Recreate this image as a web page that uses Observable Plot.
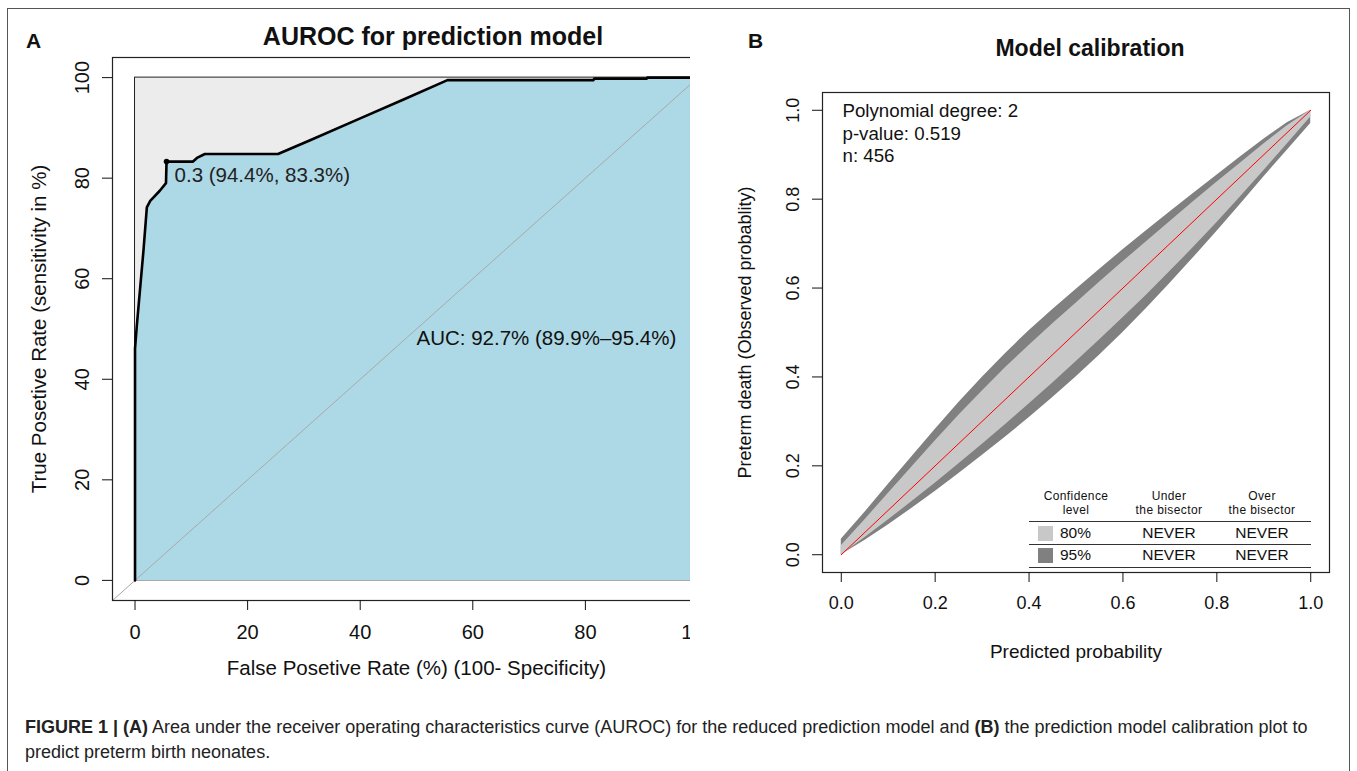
<!DOCTYPE html>
<html><head><meta charset="utf-8">
<script src="https://cdn.jsdelivr.net/npm/d3@7"></script>
<script src="https://cdn.jsdelivr.net/npm/@observablehq/plot@0.6"></script>
<style>
body{margin:0;background:#fff;font-family:"Liberation Sans",Arial,sans-serif;color:#111;}
#fig{position:relative;width:1357px;height:771px;overflow:hidden;}
#frame{position:absolute;left:7px;top:8px;width:1341px;height:820px;border:1px solid #555;}
.letter{position:absolute;font-weight:bold;font-size:21px;line-height:1;}
.ptitle{position:absolute;font-weight:bold;transform:translate(-50%,-50%);white-space:nowrap;line-height:1;}
#plotA{position:absolute;left:0;top:0;width:730px;height:700px;clip-path:inset(0 40px 0 0);}
#plotB{position:absolute;left:700px;top:0;}
#plotA svg,#plotB svg{max-width:none !important;}
#legendB{position:absolute;left:0;top:0;}
.lg{position:absolute;white-space:nowrap;line-height:1;transform:translate(-50%,-50%);}
.lgline{position:absolute;height:0;border-top:1.5px solid #333;}
.lgsq{position:absolute;width:15px;height:15px;}
#caption{position:absolute;left:25px;top:715px;width:1320px;font-size:18px;line-height:25px;color:#222;white-space:nowrap;}
</style></head>
<body>
<div id="fig">
  <div id="frame"></div>
  <div id="plotA"></div>
  <div id="plotB"></div>
  <div class="letter" style="left:26px;top:30px">A</div>
  <div class="letter" style="left:748px;top:30px">B</div>
  <div class="ptitle" id="titleA" style="left:433px;top:36px;font-size:25px"></div>
  <div class="ptitle" id="titleB" style="left:1090px;top:48px;font-size:23px"></div>
  <div id="legendB"></div>
  <div id="caption"></div>
</div>
<script>
// ---------- Panel A data (ROC curve) ----------
const titleA = "AUROC for prediction model";
const rocFpr = [0, 0, 0.3, 1.5, 2.1, 2.7, 4.4, 5.5, 5.6, 10.3, 11.1, 12.4, 25.4, 31, 40, 47.6, 55.5, 81.4, 81.6, 90.9, 91, 100];
const rocTpr = [0, 46.1, 50.4, 65.6, 74.2, 75.5, 77.5, 79, 83.3, 83.3, 84.1, 84.8, 84.8, 87.5, 91.9, 95.6, 99.5, 99.5, 99.8, 99.8, 100, 100];
const thrFpr = [5.6];
const thrTpr = [83.3];
const thrLabel = ["0.3 (94.4%, 83.3%)"];
const aucX = [50];
const aucY = [50];
const aucLabel = ["AUC: 92.7% (89.9%\u201395.4%)"];
const ticksA = [0, 20, 40, 60, 80, 100];
const domainA = [-4, 104];
const xLabelA = "False Posetive Rate (%) (100- Specificity)";
const yLabelA = "True Posetive Rate (sensitivity in %)";

// ---------- Panel B data (calibration belt) ----------
const titleB = "Model calibration";
const beltP   = [0.00,0.05,0.10,0.15,0.20,0.25,0.30,0.35,0.40,0.45,0.50,0.55,0.60,0.65,0.70,0.75,0.80,0.85,0.90,0.95,1.00];
const beltU95 = [0.035,0.095,0.158,0.220,0.282,0.342,0.399,0.453,0.504,0.551,0.597,0.642,0.686,0.729,0.771,0.813,0.854,0.895,0.935,0.972,1.000];
const beltU80 = [0.020,0.078,0.138,0.197,0.256,0.313,0.368,0.421,0.471,0.519,0.566,0.613,0.659,0.704,0.749,0.794,0.838,0.881,0.924,0.965,1.000];
const beltL80 = [0.000,0.038,0.078,0.119,0.161,0.204,0.248,0.293,0.339,0.386,0.434,0.483,0.533,0.584,0.637,0.691,0.747,0.805,0.864,0.924,0.985];
const beltL95 = [0.000,0.032,0.067,0.104,0.142,0.182,0.223,0.265,0.308,0.353,0.400,0.449,0.500,0.554,0.610,0.668,0.727,0.788,0.850,0.910,0.970];
const bisector = [0, 1];
const ticksB = [0, 0.2, 0.4, 0.6, 0.8, 1.0];
const domainB = [-0.04, 1.04];
const infoLines = ["Polynomial degree: 2", "p-value: 0.519", "n: 456"];
const xLabelB = "Predicted probability";
const yLabelB = "Preterm death (Observed probablity)";
const legendHeaders = ["Confidence\nlevel", "Under\nthe bisector", "Over\nthe bisector"];
const legendLevels = ["80%", "95%"];
const legendUnder = ["NEVER", "NEVER"];
const legendOver = ["NEVER", "NEVER"];
const legendColors = ["#c8c8c8", "#808080"];

const captionLines = [
  "<b>FIGURE 1 | (A)</b> Area under the receiver operating characteristics curve (AUROC) for the reduced prediction model and <b>(B)</b> the prediction model calibration plot to",
  "predict preterm birth neonates."
];

// ---------- build ----------
document.getElementById("titleA").textContent = titleA;
document.getElementById("titleB").textContent = titleB;
document.getElementById("caption").innerHTML = captionLines.join("<br>");

const roc = rocFpr.map((f, i) => ({fpr: f, tpr: rocTpr[i]}));
const thr = thrFpr.map((f, i) => ({x: f, y: thrTpr[i], t: thrLabel[i]}));
const auc = aucX.map((x, i) => ({x, y: aucY[i], t: aucLabel[i]}));
const diagA = domainA.map(v => ({v}));
const sq = [{x1: ticksA[0], x2: ticksA[ticksA.length-1], y1: ticksA[0], y2: ticksA[ticksA.length-1]}];

const font = "Liberation Sans, Arial, sans-serif";
const plotA = Plot.plot({
  width: 730, height: 700,
  marginLeft: 112, marginRight: 10, marginTop: 57, marginBottom: 100,
  x: {domain: domainA},
  y: {domain: domainA},
  style: {fontFamily: font, fontSize: "20px", color: "#111", background: "transparent", maxWidth: "none"},
  marks: [
    Plot.rect(sq, {x1: "x1", x2: "x2", y1: "y1", y2: "y2", fill: "#ececec", stroke: "#222", strokeWidth: 1}),
    Plot.areaY(roc, {x: "fpr", y: "tpr", fill: "#add8e6"}),
    Plot.line(diagA, {x: "v", y: "v", stroke: "#a9a9a9", strokeWidth: 1}),
    Plot.line(roc, {x: "fpr", y: "tpr", stroke: "#000", strokeWidth: 2.6}),
    Plot.dot(thr, {x: "x", y: "y", r: 2.8, fill: "#000"}),
    Plot.text(thr, {x: "x", y: "y", text: "t", textAnchor: "start", dx: 8, dy: 14, fill: "#222", fontSize: 20.5}),
    Plot.text(auc, {x: "x", y: "y", text: "t", textAnchor: "start", lineAnchor: "top", dy: 1, fill: "#111", fontSize: 20.5}),
    Plot.frame({stroke: "#222", strokeWidth: 1.2}),
    Plot.axisX({ticks: ticksA, tickFormat: d => String(d), tickSize: 10, tickPadding: 14, label: null, anchor: "bottom"}),
    Plot.axisY({ticks: ticksA, tickFormat: d => String(d), tickSize: 10, tickRotate: -90, tickPadding: 14, label: null, anchor: "left"}),
    Plot.text([xLabelA], {frameAnchor: "bottom", dy: 68, textAnchor: "middle", lineAnchor: "middle", fontSize: 20.5}),
    Plot.text([yLabelA], {frameAnchor: "left", rotate: -90, dx: -73, textAnchor: "middle", lineAnchor: "middle", fontSize: 20.5})
  ]
});
document.getElementById("plotA").append(plotA);

const belt = beltP.map((p, i) => ({p, u95: beltU95[i], u80: beltU80[i], l80: beltL80[i], l95: beltL95[i]}));
const bis = bisector.map(v => ({v}));
const plotB = Plot.plot({
  width: 657, height: 700,
  marginLeft: 122, marginRight: 28, marginTop: 92, marginBottom: 128,
  x: {domain: domainB},
  y: {domain: domainB},
  style: {fontFamily: font, fontSize: "18px", color: "#111", background: "transparent", maxWidth: "none"},
  marks: [
    Plot.areaY(belt, {x: "p", y1: "l95", y2: "u95", fill: legendColors[1]}),
    Plot.areaY(belt, {x: "p", y1: "l80", y2: "u80", fill: legendColors[0]}),
    Plot.line(bis, {x: "v", y: "v", stroke: "#ff0000", strokeWidth: 1}),
    Plot.text([infoLines.join("\n")], {frameAnchor: "top-left", dx: 20, dy: 9, textAnchor: "start", lineAnchor: "top", lineHeight: 1.2, fontSize: 18.7}),
    Plot.frame({stroke: "#222", strokeWidth: 1.2}),
    Plot.axisX({ticks: ticksB, tickFormat: d3.format(".1f"), tickSize: 10, tickPadding: 14, label: null, anchor: "bottom"}),
    Plot.axisY({ticks: ticksB, tickFormat: d3.format(".1f"), tickSize: 10, tickRotate: -90, tickPadding: 14, label: null, anchor: "left"}),
    Plot.text([xLabelB], {frameAnchor: "bottom", dy: 79, textAnchor: "middle", lineAnchor: "middle", fontSize: 19}),
    Plot.text([yLabelB], {frameAnchor: "left", rotate: -90, dx: -77, textAnchor: "middle", lineAnchor: "middle"})
  ]
});
document.getElementById("plotB").append(plotB);

// ---------- legend table (panel B) ----------
const lg = d3.select("#legendB");
const colX = [1076, 1169, 1262];
legendHeaders.forEach((h, i) => {
  h.split("\n").forEach((line, j) => {
    lg.append("div").attr("class", "lg")
      .style("left", colX[i] + "px").style("top", (496 + j * 14) + "px")
      .style("font-size", "12px").style("letter-spacing", "0.4px").text(line);
  });
});
[521, 544, 567].forEach(y => {
  lg.append("div").attr("class", "lgline").style("left", "1029px").style("top", y + "px").style("width", "282px");
});
legendLevels.forEach((lvl, i) => {
  const cy = 533 + i * 22;
  lg.append("div").attr("class", "lgsq").style("left", "1038px").style("top", (cy - 7) + "px").style("background", legendColors[i]);
  lg.append("div").attr("class", "lg").style("left", "1060px").style("top", cy + "px")
    .style("transform", "translate(0,-50%)").style("font-size", "15.5px").text(lvl);
  lg.append("div").attr("class", "lg").style("left", colX[1] + "px").style("top", cy + "px").style("font-size", "15.5px").text(legendUnder[i]);
  lg.append("div").attr("class", "lg").style("left", colX[2] + "px").style("top", cy + "px").style("font-size", "15.5px").text(legendOver[i]);
});
</script>
</body></html>
